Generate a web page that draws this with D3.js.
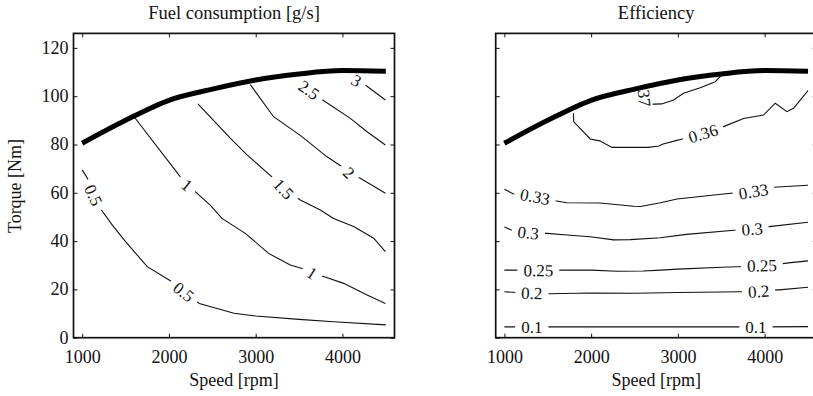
<!DOCTYPE html>
<html><head><meta charset="utf-8">
<script src="https://cdn.jsdelivr.net/npm/d3@7"></script>
<style>
body{margin:0;background:#fff;}
svg text{font-family:"Liberation Serif","Times New Roman",serif;fill:#111;}
</style></head><body>
<svg id="c" width="813" height="396"></svg>
<script>
// ---------- data ----------
const speedTicks = [1000, 2000, 3000, 4000];
const torqueTicks = [0, 20, 40, 60, 80, 100, 120];
const speedDomain = [900, 4600];
const torqueDomain = [0, 126];

const maxTorqueCurve = [[1000,80.5],[1500,90],[2000,98.3],[2500,102.9],[3000,106.7],[3500,109.2],[4000,110.6],[4500,110.3]];

const fuelLevels = ["0.5","1","1.5","2","2.5","3"];
const fuel05 = [[1000,69.5],[1060,66],[1100,63],[1150,59],[1210,53.5],[1350,46.5],[1500,39.8],[1750,29.4],[2035,23.2],[2200,18.5],[2350,14.2],[2750,10.1],[3000,9],[3500,7.6],[3900,6.6],[4500,5.3]];
const fuel1 = [[1600,91.4],[2130,66.7],[2208,63.2],[2303,60.5],[2476,54.9],[2611,49.4],[2880,43.2],[3149,34.9],[3399,30.1],[3592,28.0],[3649,26.7],[3783,25.3],[4014,22.5],[4284,17.7],[4495,14.2]];
const fuel15 = [[2334,96.8],[2707,82.6],[2900,75.7],[3206,66.0],[3322,61.6],[3514,57.0],[3745,52.9],[3898,49.4],[4129,46.0],[4360,41.2],[4495,35.6]];
const fuel2 = [[2938,104.8],[3206,91.5],[3514,83.8],[3822,74.9],[3995,70.8],[4072,68.1],[4206,66.0],[4495,59.8]];
const fuel25 = [[3495,108.8],[3610,102.6],[3803,97.7],[4091,90.8],[4284,85.3],[4495,79.8]];
const fuel3 = [[4090,110.7],[4150,107],[4264,104.6],[4495,98.4]];
// label anchors: [contour index, speed, torque]
const fuelLabels = [[0,1130,59],[0,2170,19],[1,2210,63.2],[1,3650,26.8],[2,3322,61.6],[3,4075,68.3],[4,3615,102.6],[5,4160,106.5]];

const effLevels = ["0.1","0.2","0.25","0.3","0.33","0.36","0.37"];
const eff01 = [[1000,4.5],[1500,4.5],[2000,4.5],[2500,4.5],[3000,4.5],[3500,4.5],[4000,4.5],[4500,4.6]];
const eff02 = [[1000,19.0],[1300,18.4],[1500,18.2],[2000,18.5],[2500,18.4],[3000,18.7],[3500,18.9],[3900,19.1],[4200,19.9],[4500,20.9]];
const eff025 = [[1000,28.0],[1400,27.9],[1700,28.0],[2000,28.0],[2300,27.5],[2600,27.6],[2800,28.0],[3000,28.4],[3500,29.2],[4000,29.7],[4300,31.1],[4500,31.8]];
const eff03 = [[1000,45.8],[1100,44.3],[1300,43.5],[1490,43.2],[1720,42.5],[1990,41.8],[2260,40.5],[2450,40.6],[2800,41.4],[3100,42.8],[3680,44.6],[3900,45.2],[4050,46.0],[4500,47.8]];
const eff033 = [[1000,61.5],[1100,59.6],[1350,58.3],[1585,56.7],[1720,55.9],[2100,55.8],[2490,54.4],[2570,54.3],[2800,55.9],[2990,57.4],[3500,59.4],[3800,60.5],[4100,62.3],[4500,63.1]];
const eff036 = [[1796,92.9],[1800,89.4],[1990,82.3],[2100,81.5],[2240,78.8],[2660,78.8],[2780,79.4],[2830,80.2],[3010,81.9],[3260,84.5],[3526,87.4],[3757,90.8],[3987,92.2],[4122,97.1],[4257,93.6],[4333,95.0],[4500,102.3]];
const eff037 = [[2600,104.5],[2615,99],[2660,96.6],[2815,96.8],[2950,98.4],[3065,101.2],[3257,103.5],[3430,106.0],[3510,108.9]];
const effLabels = [[0,1316,4.5],[0,3900,4.5],[1,1316,18.5],[1,3930,19.2],[2,1392,27.9],[2,3969,29.9],[3,1275,43.5],[3,3855,45.0],[4,1354,58.4],[4,3872,60.6],[5,3290,84.6],[6,2608,101.8]];

// ---------- drawing ----------
const svg = d3.select("#c");
const Y0 = 337.7, Y1 = 33.4;

function panel(x0, x1, title, lines, levels, labels, showYLabels) {
  const x = d3.scaleLinear().domain(speedDomain).range([x0, x1]);
  const y = d3.scaleLinear().domain(torqueDomain).range([Y0, Y1]);
  const g = svg.append("g");
  const line = d3.line().x(d => x(d[0])).y(d => y(d[1]));

  g.selectAll("path.ct").data(lines).join("path")
    .attr("class", "ct").attr("d", line)
    .attr("fill", "none").attr("stroke", "#111").attr("stroke-width", 1.1);

  labels.forEach(([li, s, t]) => {
    const px = x(s), py = y(t);
    const pts = lines[li].map(d => [x(d[0]), y(d[1])]);
    let best = Infinity, ang = 0;
    for (let i = 0; i < pts.length - 1; i++) {
      const [xa, ya] = pts[i], [xb, yb] = pts[i + 1];
      const dx = xb - xa, dy = yb - ya;
      let u = ((px - xa) * dx + (py - ya) * dy) / (dx * dx + dy * dy);
      u = Math.max(0, Math.min(1, u));
      const qx = xa + u * dx - px, qy = ya + u * dy - py;
      const d = qx * qx + qy * qy;
      if (d < best) { best = d; ang = Math.atan2(dy, dx) * 180 / Math.PI; }
    }
    if (ang > 90) ang -= 180;
    if (ang < -90) ang += 180;
    const lg = g.append("g").attr("transform", `translate(${px},${py}) rotate(${ang})`);
    const rect = lg.append("rect");
    const tx = lg.append("text").text(levels[li])
      .attr("text-anchor", "middle").attr("dy", "0.35em").style("font-size", "17px");
    const w = tx.node().getComputedTextLength();
    rect.attr("x", -w / 2 - 6).attr("y", -7.5).attr("width", w + 12).attr("height", 15).attr("fill", "#fff");
  });

  // white mask above the max torque curve
  const area = d3.area().x(d => x(d[0])).y0(y(torqueDomain[1]) + 2).y1(d => y(d[1]))
    .curve(d3.curveMonotoneX);
  g.append("path").attr("d", area(maxTorqueCurve)).attr("fill", "#fff");
  const mline = d3.line().x(d => x(d[0])).y(d => y(d[1])).curve(d3.curveMonotoneX);
  g.append("path").attr("d", mline(maxTorqueCurve))
    .attr("fill", "none").attr("stroke", "#000").attr("stroke-width", 5);

  // axes with inward ticks
  const fs = "18px";
  const bottom = g.append("g").attr("transform", `translate(0,${Y0})`)
    .call(d3.axisBottom(x).tickValues(speedTicks).tickSize(-4).tickPadding(12.5).tickFormat(d3.format("d")));
  const top = g.append("g").attr("transform", `translate(0,${Y1})`)
    .call(d3.axisTop(x).tickValues(speedTicks).tickSize(-4).tickFormat(""));
  const left = g.append("g").attr("transform", `translate(${x0},0)`)
    .call(d3.axisLeft(y).tickValues(torqueTicks).tickSize(-4).tickPadding(5)
      .tickFormat(showYLabels ? d3.format("d") : ""));
  const right = g.append("g").attr("transform", `translate(${x1},0)`)
    .call(d3.axisRight(y).tickValues(torqueTicks).tickSize(-4).tickFormat(""));
  [bottom, top, left, right].forEach(a => {
    a.select(".domain").remove();
    a.selectAll(".tick line").attr("stroke", "#111").attr("stroke-width", 1);
    a.selectAll("text").style("font-size", fs).attr("fill", "#111")
      .style("font-family", '"Liberation Serif",serif');
  });
  left.selectAll("text").attr("dy", "0.3em");

  g.append("rect").attr("x", x0).attr("y", Y1).attr("width", x1 - x0).attr("height", Y0 - Y1)
    .attr("fill", "none").attr("stroke", "#111").attr("stroke-width", 1.7);

  g.append("text").attr("x", (x0 + x1) / 2).attr("y", 19).attr("text-anchor", "middle")
    .style("font-size", "18.5px").text(title);
  g.append("text").attr("x", (x0 + x1) / 2).attr("y", 386).attr("text-anchor", "middle")
    .style("font-size", "18px").text("Speed [rpm]");
}

panel(73.5, 394.5, "Fuel consumption [g/s]", [fuel05, fuel1, fuel15, fuel2, fuel25, fuel3], fuelLevels, fuelLabels, true);
panel(495.7, 816.7, "Efficiency", [eff01, eff02, eff025, eff03, eff033, eff036, eff037], effLevels, effLabels, false);

svg.append("text").attr("transform", "translate(21,186) rotate(-90)")
  .attr("text-anchor", "middle").style("font-size", "18px").text("Torque [Nm]");
</script>
</body></html>
